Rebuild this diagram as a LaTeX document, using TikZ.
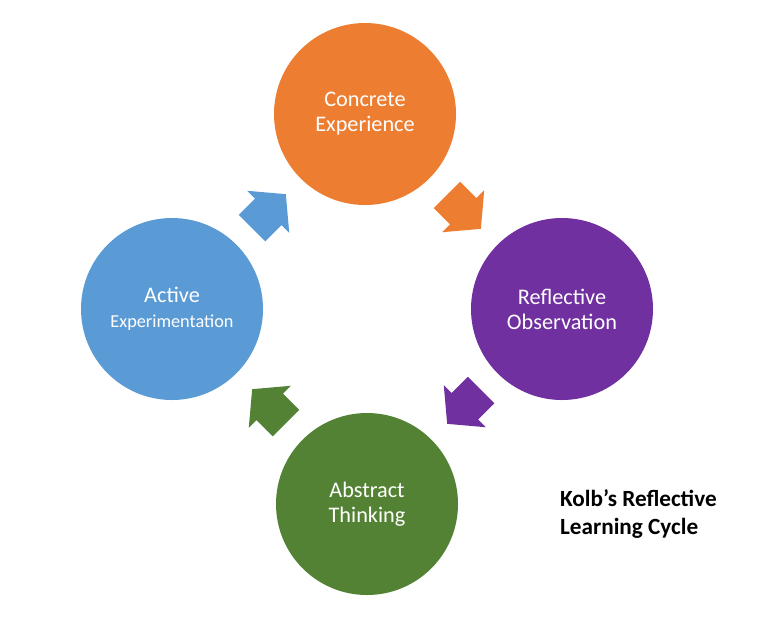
\documentclass[tikz,border=0pt]{standalone}
\usepackage{fontspec}
\setmainfont{Carlito}
\usepackage{tikz}
\usetikzlibrary{shapes.arrows,calc}
\definecolor{kolborange}{HTML}{ED7D31}
\definecolor{kolbpurple}{HTML}{7030A0}
\definecolor{kolbgreen}{HTML}{548235}
\definecolor{kolbblue}{HTML}{5B9BD5}

\begin{document}
\begin{tikzpicture}[x=0.03cm, y=-0.03cm,
  stage/.style={circle, minimum size=5.46cm, inner sep=0pt, text=white,
    align=center, font=\fontsize{19}{21.3}\selectfont},
  turn/.style={single arrow, minimum height=1.44cm, inner xsep=0pt, inner ysep=0.555cm,
    single arrow head extend=0.33cm, single arrow tip angle=100, rotate=#1, xshift=-0.22cm}]

\useasboundingbox (0,0) rectangle (768,633);

%% the four stages of the cycle
\path
(365,114) node[stage, fill=kolborange] (concrete){Concrete\\Experience};
\path
(562,309) node[stage, fill=kolbpurple] (reflective){Reflective\\Observation};
\path
(367,504) node[stage, fill=kolbgreen] (abstract){Abstract\\Thinking};
\path
(172,309) node[stage, fill=kolbblue] (active){Active\\{\fontsize{15.6}{21.3}\selectfont Experimentation}};

%% block arrows half way between the stages
\path
($(concrete)!0.5!(reflective)$) node[turn=-45, fill=kolborange] (toreflective){};
\path
($(reflective)!0.5!(abstract)$) node[turn=-135, fill=kolbpurple] (toabstract){};
\path
($(abstract)!0.5!(active)$) node[turn=135, fill=kolbgreen] (toactive){};
\path
($(active)!0.5!(concrete)$) node[turn=45, fill=kolbblue] (toconcrete){};

% title
\path
(556,514) node[anchor=west, align=left, font=\bfseries\fontsize{19.8}{23.9}\selectfont] (title){Kolb’s Reflective\\Learning Cycle};

\end{tikzpicture}
\end{document}
